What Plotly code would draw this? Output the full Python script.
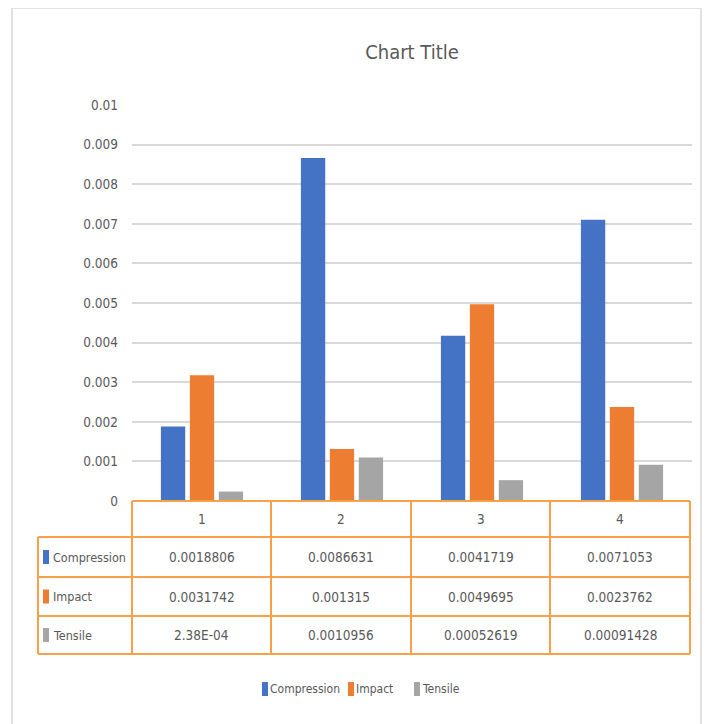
import plotly.graph_objects as go

categories = ["1", "2", "3", "4"]
series_names = ["Compression", "Impact", "Tensile"]
compression = [0.0018806, 0.0086631, 0.0041719, 0.0071053]
impact = [0.0031742, 0.001315, 0.0049695, 0.0023762]
tensile = [0.000238, 0.0010956, 0.00052619, 0.00091428]
table_labels = {
    "Compression": ["0.0018806", "0.0086631", "0.0041719", "0.0071053"],
    "Impact": ["0.0031742", "0.001315", "0.0049695", "0.0023762"],
    "Tensile": ["2.38E-04", "0.0010956", "0.00052619", "0.00091428"],
}
y_ticks = [0, 0.001, 0.002, 0.003, 0.004, 0.005, 0.006, 0.007, 0.008, 0.009, 0.01]
y_tick_labels = ["0", "0.001", "0.002", "0.003", "0.004", "0.005", "0.006", "0.007", "0.008", "0.009", "0.01"]

colors = {"Compression": "#4472C4", "Impact": "#ED7D31", "Tensile": "#A5A5A5"}
values = {"Compression": compression, "Impact": impact, "Tensile": tensile}

OFF = 8  # page body margin
W, H = 712 - OFF, 724 - OFF
L, R, T, B = 132 - OFF, 692 - OFF, 105 - OFF, 501 - OFF
FONT = "DejaVu Sans Condensed, Liberation Sans Narrow, Roboto, sans-serif"
TXT = "#595959"
ORANGE = "#F9A04A"


def px(x):
    return (x - OFF - L) / (R - L)


def py(y):
    return (B - (y - OFF)) / (B - T)


fig = go.Figure()
for name in series_names:
    fig.add_trace(go.Bar(x=categories, y=values[name], name=name,
                         marker=dict(color=colors[name], line=dict(width=0)),
                         showlegend=False))

shapes = []
annotations = []

# outer frame
shapes.append(dict(type="rect", xref="paper", yref="paper",
                   x0=px(12), x1=px(701), y0=py(740), y1=py(8),
                   line=dict(color="#D9D9D9", width=1.5), fillcolor="rgba(0,0,0,0)", layer="below"))

# table geometry
col_edges = [132, 271, 411, 550, 690]
row_edges = [501, 537, 577, 616, 654]
left_edge = 38

for ry in row_edges:
    x0 = col_edges[0] if ry == row_edges[0] else left_edge
    shapes.append(dict(type="line", xref="paper", yref="paper", x0=px(x0), x1=px(col_edges[-1]),
                       y0=py(ry), y1=py(ry), line=dict(color=ORANGE, width=2)))
for cx in col_edges:
    shapes.append(dict(type="line", xref="paper", yref="paper", x0=px(cx), x1=px(cx),
                       y0=py(row_edges[0]), y1=py(row_edges[-1]), line=dict(color=ORANGE, width=2)))
shapes.append(dict(type="line", xref="paper", yref="paper", x0=px(left_edge), x1=px(left_edge),
                   y0=py(row_edges[1]), y1=py(row_edges[-1]), line=dict(color=ORANGE, width=2)))

FS = 13.5
for i, c in enumerate(categories):
    annotations.append(dict(xref="paper", yref="paper", x=px((col_edges[i] + col_edges[i + 1]) / 2),
                            y=py((row_edges[0] + row_edges[1]) / 2), text=c, showarrow=False,
                            font=dict(family=FONT, size=FS, color=TXT), xanchor="center", yanchor="middle"))

KEY_H = 14 / (B - T)
for r, name in enumerate(series_names):
    yc = py((row_edges[r + 1] + row_edges[r + 2]) / 2)
    shapes.append(dict(type="rect", xref="paper", yref="paper", x0=px(43), x1=px(49),
                       y0=yc - KEY_H / 2, y1=yc + KEY_H / 2,
                       fillcolor=colors[name], line=dict(width=0)))
    annotations.append(dict(xref="paper", yref="paper", x=px(51), y=yc, text=name, showarrow=False,
                            font=dict(family=FONT, size=12.5, color=TXT), xanchor="left", yanchor="middle"))
    for i, lab in enumerate(table_labels[name]):
        annotations.append(dict(xref="paper", yref="paper", x=px((col_edges[i] + col_edges[i + 1]) / 2),
                                y=yc, text=lab, showarrow=False,
                                font=dict(family=FONT, size=FS, color=TXT), xanchor="center", yanchor="middle"))

leg_items = [(262, "Compression"), (348, "Impact"), (414, "Tensile")]
ly = py(689)
for x0, name in leg_items:
    shapes.append(dict(type="rect", xref="paper", yref="paper", x0=px(x0), x1=px(x0 + 6),
                       y0=ly - KEY_H / 2, y1=ly + KEY_H / 2,
                       fillcolor=colors[name], line=dict(width=0)))
    annotations.append(dict(xref="paper", yref="paper", x=px(x0 + 6), y=ly, text=name, showarrow=False,
                            font=dict(family=FONT, size=12, color=TXT), xanchor="left", yanchor="middle"))

fig.update_layout(
    width=W, height=H,
    margin=dict(l=L, r=W - R, t=T, b=H - B, pad=0),
    paper_bgcolor="white", plot_bgcolor="white",
    title=dict(text="Chart Title", x=0.5, xanchor="center", xref="paper", y=1 - (52 - OFF) / H, yanchor="middle",
               font=dict(family=FONT, size=20, color=TXT)),
    barmode="group", bargap=0.38, bargroupgap=0.16,
    xaxis=dict(showticklabels=False, showgrid=False, zeroline=False, showline=False, ticks=""),
    yaxis=dict(range=[0, 0.01], tickvals=y_ticks, ticktext=y_tick_labels, showgrid=True,
               gridcolor="#D9D9D9", gridwidth=2, zeroline=False, showline=False, ticks="",
               ticklabelstandoff=13,
               tickfont=dict(family=FONT, size=FS, color=TXT)),
    shapes=shapes, annotations=annotations,
)

fig.write_html("out.html")
